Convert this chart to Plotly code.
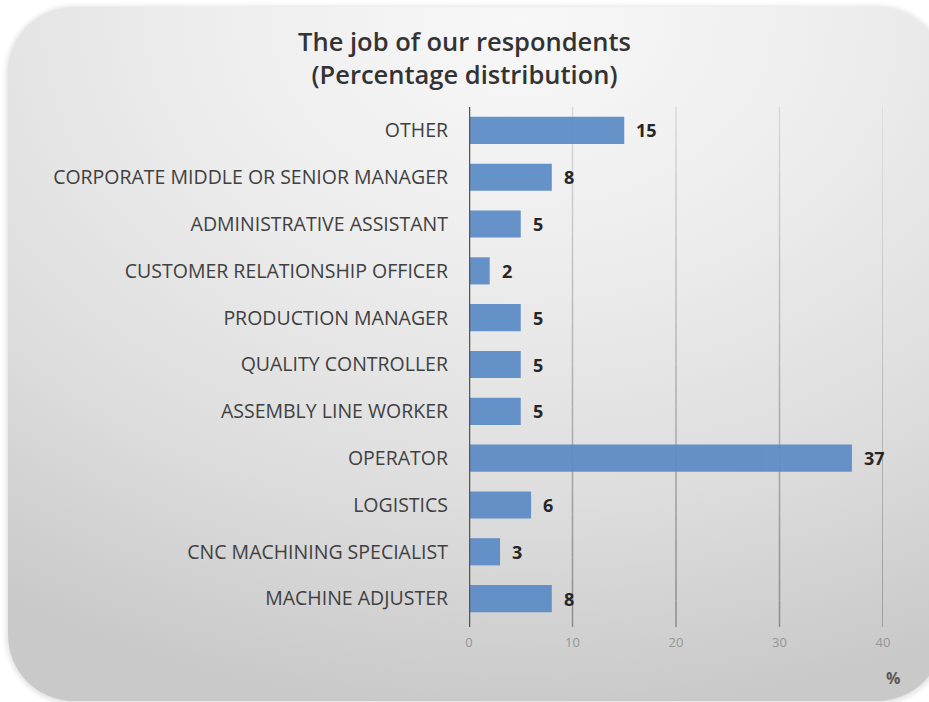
import plotly.graph_objects as go
import urllib.parse

# Job categories (top to bottom as displayed) and their percentage shares
jobs = [
    "OTHER",
    "CORPORATE MIDDLE OR SENIOR MANAGER",
    "ADMINISTRATIVE ASSISTANT",
    "CUSTOMER RELATIONSHIP OFFICER",
    "PRODUCTION MANAGER",
    "QUALITY CONTROLLER",
    "ASSEMBLY LINE WORKER",
    "OPERATOR",
    "LOGISTICS",
    "CNC MACHINING SPECIALIST",
    "MACHINE ADJUSTER",
]
shares = [15, 8, 5, 2, 5, 5, 5, 37, 6, 3, 8]
x_ticks = [0, 10, 20, 30, 40]

W, H = 929, 702
L, R, T, B = 469, 46, 107, 80
plot_w = W - L - R
plot_h = H - T - B

# Rounded card with a soft radial gradient, used as the chart backdrop
svg = f"""<svg xmlns='http://www.w3.org/2000/svg' width='{W}' height='{H}' viewBox='0 0 {W} {H}'>
<defs>
<radialGradient id='g' cx='0.55' cy='0.02' r='1.0' fx='0.55' fy='0.02'>
<stop offset='0' stop-color='#f8f8f8'/>
<stop offset='0.35' stop-color='#ededed'/>
<stop offset='0.7' stop-color='#dddddd'/>
<stop offset='1' stop-color='#c9c9c9'/>
</radialGradient>
<filter id='s' x='-5%' y='-5%' width='110%' height='110%'>
<feGaussianBlur stdDeviation='2.5'/>
</filter>
</defs>
<rect x='6' y='6' width='940' height='698' rx='68' ry='68' fill='#e2e2e2' filter='url(#s)'/>
<rect x='8' y='7' width='935' height='694' rx='66' ry='66' fill='url(#g)'/>
</svg>"""
bg_src = "data:image/svg+xml;charset=utf-8," + urllib.parse.quote(svg)


def mix(c0, c1, t):
    return "rgb({},{},{})".format(*[round(a + (b - a) * t) for a, b in zip(c0, c1)])


# Gridlines fade from light at the top to darker at the bottom
shapes = []
n_seg = 24
top_col, bot_col = (218, 218, 218), (140, 140, 140)
for tv in x_ticks[1:]:
    for i in range(n_seg):
        y_hi = 1 - i / n_seg
        y_lo = 1 - (i + 1) / n_seg
        shapes.append(dict(
            type="line", xref="x", yref="paper",
            x0=tv, x1=tv, y0=y_lo, y1=y_hi,
            line=dict(color=mix(top_col, bot_col, (i + 0.5) / n_seg), width=1.5),
            layer="below",
        ))
    # short tick stub below the plot area
    shapes.append(dict(
        type="line", xref="x", yref="paper",
        x0=tv, x1=tv, y0=-5 / plot_h, y1=0,
        line=dict(color="rgb(140,140,140)", width=1.5), layer="below",
    ))
# value axis line at zero
shapes.append(dict(
    type="line", xref="x", yref="paper",
    x0=0, x1=0, y0=-5 / plot_h, y1=1,
    line=dict(color="#555555", width=2.5),
    layer="above",
))

fig = go.Figure()
fig.add_trace(go.Bar(
    y=jobs,
    x=shares,
    orientation="h",
    marker=dict(color="#5b8bc6", line=dict(width=0)),
    opacity=0.93,
    hoverinfo="skip",
))

fig.add_layout_image(
    source=bg_src,
    xref="paper", yref="paper",
    x=-L / plot_w, y=(plot_h + T) / plot_h,
    sizex=W / plot_w, sizey=H / plot_h,
    xanchor="left", yanchor="top",
    sizing="stretch",
    layer="below",
)

# Value labels beside each bar
annotations = [
    dict(
        x=v, y=j, xref="x", yref="y",
        text=str(v), showarrow=False,
        xanchor="left", yanchor="middle", xshift=10,
        font=dict(family="Open Sans", size=18, color="#262626", weight="bold"),
    )
    for j, v in zip(jobs, shares)
]
annotations.append(dict(
    text="%", xref="paper", yref="paper",
    x=1 + 10 / plot_w, y=-(678 - T - plot_h) / plot_h,
    showarrow=False, xanchor="center", yanchor="middle",
    font=dict(family="Open Sans", size=16, color="#595959", weight="bold"),
))

fig.update_layout(
    width=W, height=H,
    margin=dict(l=L, r=R, t=T, b=B),
    paper_bgcolor="white",
    plot_bgcolor="rgba(0,0,0,0)",
    bargap=0.42,
    showlegend=False,
    title=dict(
        text="The job of our respondents<br>(Percentage distribution)",
        x=0.5, xanchor="center", xref="container",
        y=1 - 51 / H, yref="container", yanchor="middle",
        font=dict(family="Open Sans", size=25.5, color="#333333", weight=600),
    ),
    xaxis=dict(
        range=[0, 40],
        tickvals=x_ticks,
        ticktext=[str(t) for t in x_ticks],
        showgrid=False,
        zeroline=False,
        showline=False,
        tickfont=dict(family="Open Sans", size=13, color="#959595"),
        ticks="",
        ticklabelstandoff=11,
        fixedrange=True,
    ),
    yaxis=dict(
        categoryorder="array",
        categoryarray=jobs[::-1],
        showgrid=False,
        zeroline=False,
        showline=False,
        ticks="",
        ticklabelstandoff=20,
        tickfont=dict(family="Open Sans", size=19.5, color="#404040"),
        fixedrange=True,
    ),
    annotations=annotations,
    shapes=shapes,
)

fig.write_html("out.html")
